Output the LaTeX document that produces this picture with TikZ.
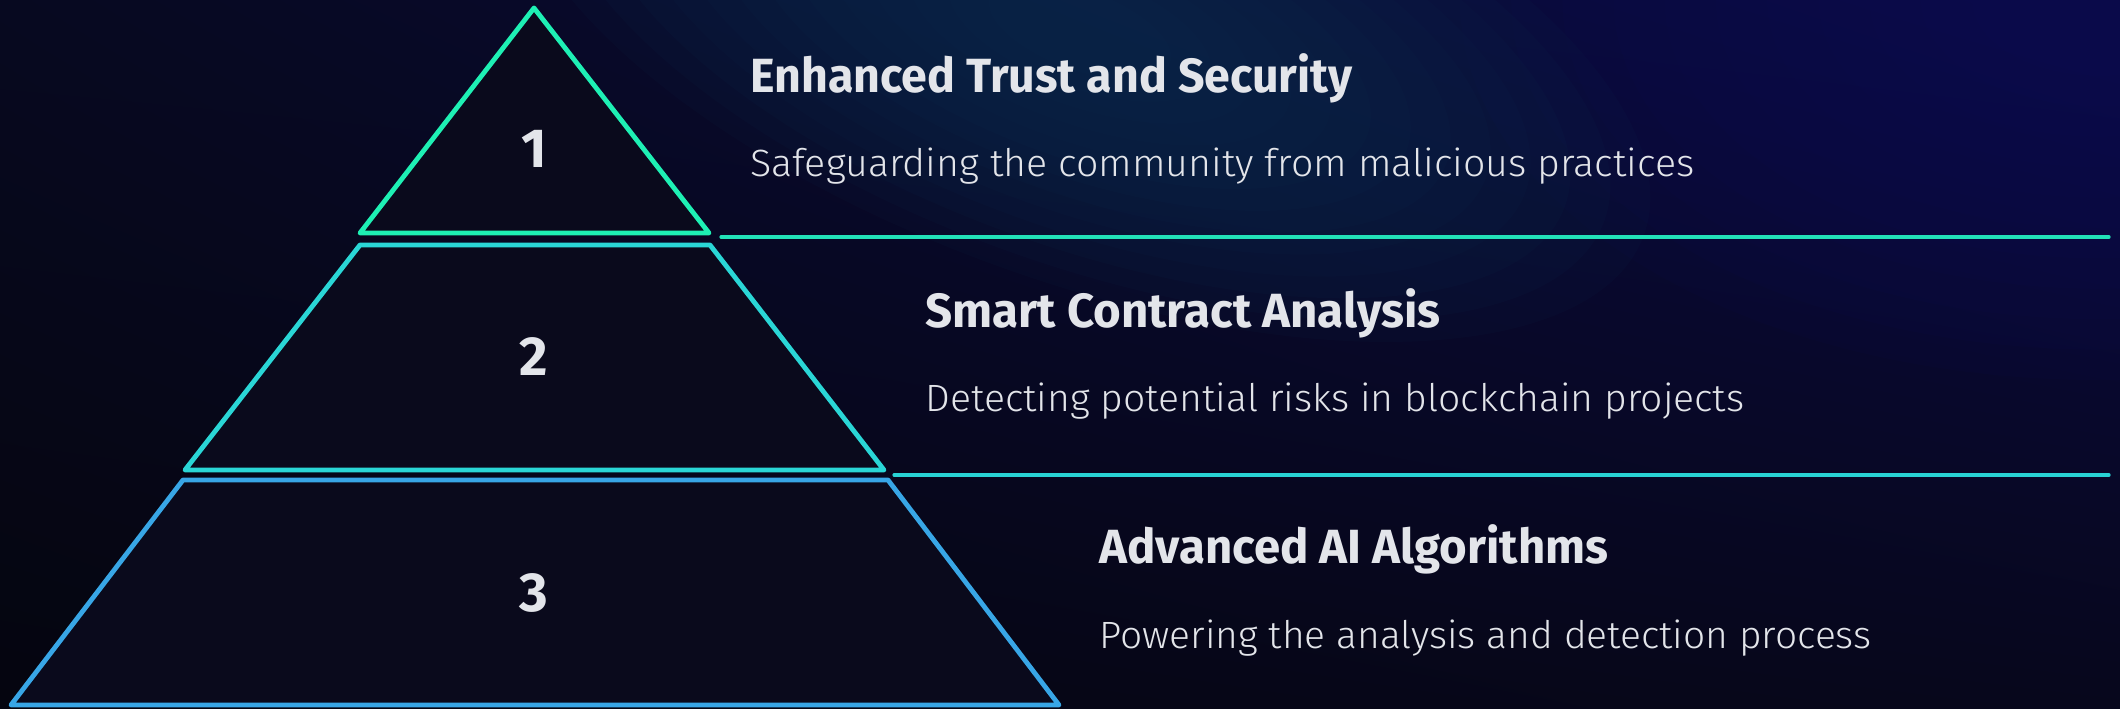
\documentclass[tikz,border=0pt]{standalone}
\usepackage{fontspec}
\setmainfont{Fira Sans}
\newfontfamily\lightfont{Fira Sans}[UprightFont={* Light}]
\usepackage{graphicx}
\usetikzlibrary{shadings}
\definecolor{bgUL}{HTML}{070920}
\definecolor{bgUR}{HTML}{0A0A42}
\definecolor{bgLL}{HTML}{05050F}
\definecolor{bgLR}{HTML}{07071C}
\definecolor{glowblue}{HTML}{0C3254}
\definecolor{glowindigo}{HTML}{0B0A55}
\definecolor{tierfill}{HTML}{0A0A1C}
\definecolor{tierA}{HTML}{1EF0B4}
\definecolor{tierB}{HTML}{2AD6D6}
\definecolor{tierC}{HTML}{38A6E6}
\definecolor{lineA}{HTML}{22E2B8}
\definecolor{lineB}{HTML}{28D2D4}
\definecolor{txt}{HTML}{E3E5EA}
\tikzset{
  tier/.style={fill=tierfill, line width=2.4pt, line join=round},
  sep/.style={line width=1.6pt, line cap=round},
  num/.style={anchor=base, inner sep=0pt, text=txt, font=\fontsize{27.5}{30}\selectfont\bfseries},
  ttl/.style={anchor=base west, inner sep=0pt, text=txt, font=\fontsize{24}{28}\selectfont\bfseries},
  sub/.style={anchor=base west, inner sep=0pt, text=txt, font=\fontsize{19}{22}\selectfont\lightfont},
}
\begin{document}
\begin{tikzpicture}[x=0.5pt,y=-0.5pt]
\useasboundingbox (0,0) rectangle (2120,708);
% background
\shade[upper left=bgUL, upper right=bgUR, lower left=bgLL, lower right=bgLR] (0,0) rectangle (2120,708);
\begin{scope}
\clip (0,0) rectangle (2120,708);
\foreach \s in {1.00,0.92,...,0.10}
  \fill[glowindigo, opacity=0.09] (2100,0) ellipse [x radius=\s*640, y radius=\s*380];
\foreach \s in {1.00,0.93,...,0.10}
  \fill[glowblue, opacity=0.085, rotate around={-20:(1080,30)}] (1080,30) ellipse [x radius=\s*600, y radius=\s*250];
\end{scope}
% tiers
\draw[tier, draw=tierA] (534,8) -- (709,233) -- (360,233) -- cycle;
\draw[tier, draw=tierB] (360,245) -- (710,245) -- (884,470) -- (185,470) -- cycle;
\draw[tier, draw=tierC] (183,480) -- (888,480) -- (1059,705) -- (11,705) -- cycle;
\node[num] (n1) at (534,167) {1};
\node[num] (n2) at (534,375) {2};
\node[num] (n3) at (534,611) {3};
% separators
\coordinate (l1a) at (721,237);
\coordinate (l1b) at (2109,237);
\coordinate (l2a) at (894,475);
\coordinate (l2b) at (2109,475);
\draw[sep, lineA] (l1a) -- (l1b);
\draw[sep, lineB] (l2a) -- (l2b);
% texts
\node[ttl] (t1) at (750,92) {\resizebox{301pt}{\height}{Enhanced Trust and Security}};
\node[sub] (s1) at (750,176) {\resizebox{472pt}{\height}{Safeguarding the community from malicious practices}};
\node[ttl] (t2) at (925,327) {\resizebox{257.5pt}{\height}{Smart Contract Analysis}};
\node[sub] (s2) at (925,411) {\resizebox{409.5pt}{\height}{Detecting potential risks in blockchain projects}};
\node[ttl] (t3) at (1099,563) {\resizebox{254.5pt}{\height}{Advanced AI Algorithms}};
\node[sub] (s3) at (1099,648) {\resizebox{386pt}{\height}{Powering the analysis and detection process}};
\end{tikzpicture}
\end{document}
